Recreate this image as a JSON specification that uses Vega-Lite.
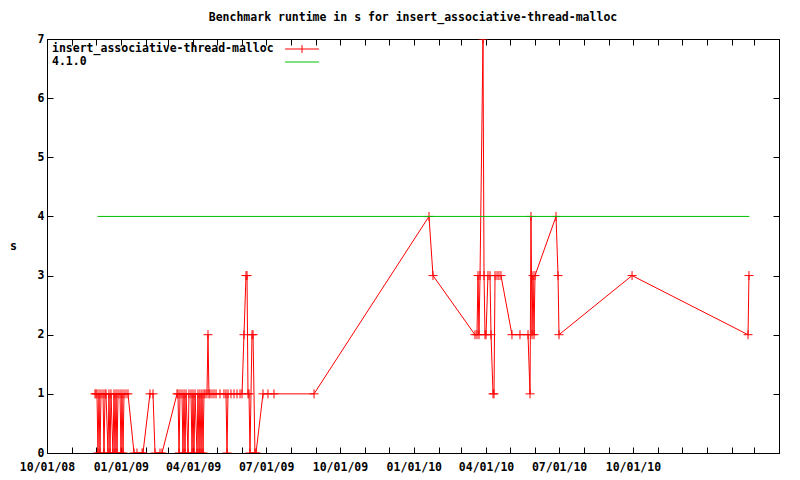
{
  "$schema": "https://vega.github.io/schema/vega-lite/v6.json",
  "width": 732,
  "height": 414,
  "autosize": "none",
  "padding": {"left": 47, "top": 39, "right": 21, "bottom": 27},
  "background": "white",
  "title": {"text": "Benchmark runtime in s for insert_associative-thread-malloc", "anchor": "middle", "offset": 10, "font": "DejaVu Sans Mono", "fontSize": 11.5, "fontWeight": "bold", "color": "black"},
  "config": {
    "view": {"stroke": "black", "strokeWidth": 1},
    "axis": {"labelFont": "DejaVu Sans Mono", "labelFontSize": 11.5, "labelFontWeight": "bold", "labelColor": "black", "titleFont": "DejaVu Sans Mono", "titleFontSize": 11.5, "titleFontWeight": "bold", "titleColor": "black", "grid": false, "domainColor": "black", "tickColor": "black", "tickSize": -6, "labelFlush": false, "labelOverlap": false},
    "legend": {"labelFont": "DejaVu Sans Mono", "labelFontSize": 11.5, "labelFontWeight": "bold", "labelColor": "black"}
  },
  "datasets": {
    "red": [
      {"date": "2008-11-29T19:00:00Z", "value": 1, "series": "insert_associative-thread-malloc"},
      {"date": "2008-12-01T00:00:00Z", "value": 1, "series": "insert_associative-thread-malloc"},
      {"date": "2008-12-02T07:00:00Z", "value": 1, "series": "insert_associative-thread-malloc"},
      {"date": "2008-12-03T12:00:00Z", "value": 0, "series": "insert_associative-thread-malloc"},
      {"date": "2008-12-04T19:00:00Z", "value": 1, "series": "insert_associative-thread-malloc"},
      {"date": "2008-12-06T00:00:00Z", "value": 0, "series": "insert_associative-thread-malloc"},
      {"date": "2008-12-07T07:00:00Z", "value": 1, "series": "insert_associative-thread-malloc"},
      {"date": "2008-12-09T19:00:00Z", "value": 1, "series": "insert_associative-thread-malloc"},
      {"date": "2008-12-11T00:00:00Z", "value": 0, "series": "insert_associative-thread-malloc"},
      {"date": "2008-12-12T07:00:00Z", "value": 1, "series": "insert_associative-thread-malloc"},
      {"date": "2008-12-13T12:00:00Z", "value": 1, "series": "insert_associative-thread-malloc"},
      {"date": "2008-12-16T00:00:00Z", "value": 0, "series": "insert_associative-thread-malloc"},
      {"date": "2008-12-17T05:00:00Z", "value": 1, "series": "insert_associative-thread-malloc"},
      {"date": "2008-12-18T12:00:00Z", "value": 0, "series": "insert_associative-thread-malloc"},
      {"date": "2008-12-19T17:00:00Z", "value": 1, "series": "insert_associative-thread-malloc"},
      {"date": "2008-12-22T05:00:00Z", "value": 0, "series": "insert_associative-thread-malloc"},
      {"date": "2008-12-23T12:00:00Z", "value": 1, "series": "insert_associative-thread-malloc"},
      {"date": "2008-12-24T17:00:00Z", "value": 0, "series": "insert_associative-thread-malloc"},
      {"date": "2008-12-26T00:00:00Z", "value": 1, "series": "insert_associative-thread-malloc"},
      {"date": "2008-12-27T05:00:00Z", "value": 0, "series": "insert_associative-thread-malloc"},
      {"date": "2008-12-28T12:00:00Z", "value": 1, "series": "insert_associative-thread-malloc"},
      {"date": "2008-12-31T00:00:00Z", "value": 1, "series": "insert_associative-thread-malloc"},
      {"date": "2009-01-01T05:00:00Z", "value": 0, "series": "insert_associative-thread-malloc"},
      {"date": "2009-01-02T10:00:00Z", "value": 1, "series": "insert_associative-thread-malloc"},
      {"date": "2009-01-03T17:00:00Z", "value": 0, "series": "insert_associative-thread-malloc"},
      {"date": "2009-01-04T22:00:00Z", "value": 1, "series": "insert_associative-thread-malloc"},
      {"date": "2009-01-07T10:00:00Z", "value": 1, "series": "insert_associative-thread-malloc"},
      {"date": "2009-01-09T22:00:00Z", "value": 1, "series": "insert_associative-thread-malloc"},
      {"date": "2009-01-17T10:00:00Z", "value": 0, "series": "insert_associative-thread-malloc"},
      {"date": "2009-01-21T02:00:00Z", "value": 0, "series": "insert_associative-thread-malloc"},
      {"date": "2009-01-27T10:00:00Z", "value": 0, "series": "insert_associative-thread-malloc"},
      {"date": "2009-01-28T14:00:00Z", "value": 0, "series": "insert_associative-thread-malloc"},
      {"date": "2009-02-06T07:00:00Z", "value": 1, "series": "insert_associative-thread-malloc"},
      {"date": "2009-02-10T02:00:00Z", "value": 1, "series": "insert_associative-thread-malloc"},
      {"date": "2009-02-12T14:00:00Z", "value": 0, "series": "insert_associative-thread-malloc"},
      {"date": "2009-02-18T19:00:00Z", "value": 0, "series": "insert_associative-thread-malloc"},
      {"date": "2009-02-21T07:00:00Z", "value": 0, "series": "insert_associative-thread-malloc"},
      {"date": "2009-03-12T00:00:00Z", "value": 1, "series": "insert_associative-thread-malloc"},
      {"date": "2009-03-13T05:00:00Z", "value": 1, "series": "insert_associative-thread-malloc"},
      {"date": "2009-03-14T12:00:00Z", "value": 0, "series": "insert_associative-thread-malloc"},
      {"date": "2009-03-15T17:00:00Z", "value": 1, "series": "insert_associative-thread-malloc"},
      {"date": "2009-03-18T05:00:00Z", "value": 1, "series": "insert_associative-thread-malloc"},
      {"date": "2009-03-19T10:00:00Z", "value": 0, "series": "insert_associative-thread-malloc"},
      {"date": "2009-03-20T17:00:00Z", "value": 1, "series": "insert_associative-thread-malloc"},
      {"date": "2009-03-21T22:00:00Z", "value": 0, "series": "insert_associative-thread-malloc"},
      {"date": "2009-03-23T05:00:00Z", "value": 1, "series": "insert_associative-thread-malloc"},
      {"date": "2009-03-25T17:00:00Z", "value": 0, "series": "insert_associative-thread-malloc"},
      {"date": "2009-03-26T22:00:00Z", "value": 1, "series": "insert_associative-thread-malloc"},
      {"date": "2009-03-29T10:00:00Z", "value": 1, "series": "insert_associative-thread-malloc"},
      {"date": "2009-03-30T17:00:00Z", "value": 0, "series": "insert_associative-thread-malloc"},
      {"date": "2009-03-31T22:00:00Z", "value": 1, "series": "insert_associative-thread-malloc"},
      {"date": "2009-04-02T02:00:00Z", "value": 0, "series": "insert_associative-thread-malloc"},
      {"date": "2009-04-03T10:00:00Z", "value": 1, "series": "insert_associative-thread-malloc"},
      {"date": "2009-04-05T22:00:00Z", "value": 0, "series": "insert_associative-thread-malloc"},
      {"date": "2009-04-07T02:00:00Z", "value": 1, "series": "insert_associative-thread-malloc"},
      {"date": "2009-04-08T10:00:00Z", "value": 0, "series": "insert_associative-thread-malloc"},
      {"date": "2009-04-09T14:00:00Z", "value": 1, "series": "insert_associative-thread-malloc"},
      {"date": "2009-04-10T22:00:00Z", "value": 0, "series": "insert_associative-thread-malloc"},
      {"date": "2009-04-12T02:00:00Z", "value": 1, "series": "insert_associative-thread-malloc"},
      {"date": "2009-04-13T10:00:00Z", "value": 0, "series": "insert_associative-thread-malloc"},
      {"date": "2009-04-14T14:00:00Z", "value": 1, "series": "insert_associative-thread-malloc"},
      {"date": "2009-04-15T22:00:00Z", "value": 1, "series": "insert_associative-thread-malloc"},
      {"date": "2009-04-18T07:00:00Z", "value": 1, "series": "insert_associative-thread-malloc"},
      {"date": "2009-04-19T14:00:00Z", "value": 2, "series": "insert_associative-thread-malloc"},
      {"date": "2009-04-20T19:00:00Z", "value": 1, "series": "insert_associative-thread-malloc"},
      {"date": "2009-04-22T02:00:00Z", "value": 1, "series": "insert_associative-thread-malloc"},
      {"date": "2009-04-24T14:00:00Z", "value": 1, "series": "insert_associative-thread-malloc"},
      {"date": "2009-04-27T02:00:00Z", "value": 1, "series": "insert_associative-thread-malloc"},
      {"date": "2009-04-29T14:00:00Z", "value": 1, "series": "insert_associative-thread-malloc"},
      {"date": "2009-05-04T12:00:00Z", "value": 1, "series": "insert_associative-thread-malloc"},
      {"date": "2009-05-09T12:00:00Z", "value": 1, "series": "insert_associative-thread-malloc"},
      {"date": "2009-05-12T00:00:00Z", "value": 1, "series": "insert_associative-thread-malloc"},
      {"date": "2009-05-13T07:00:00Z", "value": 0, "series": "insert_associative-thread-malloc"},
      {"date": "2009-05-14T12:00:00Z", "value": 1, "series": "insert_associative-thread-malloc"},
      {"date": "2009-05-18T05:00:00Z", "value": 1, "series": "insert_associative-thread-malloc"},
      {"date": "2009-05-22T00:00:00Z", "value": 1, "series": "insert_associative-thread-malloc"},
      {"date": "2009-05-25T17:00:00Z", "value": 1, "series": "insert_associative-thread-malloc"},
      {"date": "2009-05-29T12:00:00Z", "value": 1, "series": "insert_associative-thread-malloc"},
      {"date": "2009-06-01T00:00:00Z", "value": 1, "series": "insert_associative-thread-malloc"},
      {"date": "2009-06-03T10:00:00Z", "value": 2, "series": "insert_associative-thread-malloc"},
      {"date": "2009-06-05T22:00:00Z", "value": 3, "series": "insert_associative-thread-malloc"},
      {"date": "2009-06-07T05:00:00Z", "value": 3, "series": "insert_associative-thread-malloc"},
      {"date": "2009-06-08T10:00:00Z", "value": 1, "series": "insert_associative-thread-malloc"},
      {"date": "2009-06-09T17:00:00Z", "value": 1, "series": "insert_associative-thread-malloc"},
      {"date": "2009-06-10T22:00:00Z", "value": 0, "series": "insert_associative-thread-malloc"},
      {"date": "2009-06-13T10:00:00Z", "value": 2, "series": "insert_associative-thread-malloc"},
      {"date": "2009-06-14T17:00:00Z", "value": 2, "series": "insert_associative-thread-malloc"},
      {"date": "2009-06-17T02:00:00Z", "value": 0, "series": "insert_associative-thread-malloc"},
      {"date": "2009-06-18T10:00:00Z", "value": 0, "series": "insert_associative-thread-malloc"},
      {"date": "2009-06-27T02:00:00Z", "value": 1, "series": "insert_associative-thread-malloc"},
      {"date": "2009-07-03T07:00:00Z", "value": 1, "series": "insert_associative-thread-malloc"},
      {"date": "2009-07-10T19:00:00Z", "value": 1, "series": "insert_associative-thread-malloc"},
      {"date": "2009-08-29T17:00:00Z", "value": 1, "series": "insert_associative-thread-malloc"},
      {"date": "2010-01-19T22:00:00Z", "value": 4, "series": "insert_associative-thread-malloc"},
      {"date": "2010-01-24T22:00:00Z", "value": 3, "series": "insert_associative-thread-malloc"},
      {"date": "2010-03-18T05:00:00Z", "value": 2, "series": "insert_associative-thread-malloc"},
      {"date": "2010-03-20T17:00:00Z", "value": 2, "series": "insert_associative-thread-malloc"},
      {"date": "2010-03-22T00:00:00Z", "value": 3, "series": "insert_associative-thread-malloc"},
      {"date": "2010-03-23T05:00:00Z", "value": 2, "series": "insert_associative-thread-malloc"},
      {"date": "2010-03-24T12:00:00Z", "value": 3, "series": "insert_associative-thread-malloc"},
      {"date": "2010-03-28T05:00:00Z", "value": 7, "series": "insert_associative-thread-malloc"},
      {"date": "2010-03-29T12:00:00Z", "value": 3, "series": "insert_associative-thread-malloc"},
      {"date": "2010-03-30T17:00:00Z", "value": 2, "series": "insert_associative-thread-malloc"},
      {"date": "2010-04-01T00:00:00Z", "value": 2, "series": "insert_associative-thread-malloc"},
      {"date": "2010-04-03T10:00:00Z", "value": 3, "series": "insert_associative-thread-malloc"},
      {"date": "2010-04-05T22:00:00Z", "value": 3, "series": "insert_associative-thread-malloc"},
      {"date": "2010-04-07T05:00:00Z", "value": 2, "series": "insert_associative-thread-malloc"},
      {"date": "2010-04-09T17:00:00Z", "value": 1, "series": "insert_associative-thread-malloc"},
      {"date": "2010-04-10T22:00:00Z", "value": 1, "series": "insert_associative-thread-malloc"},
      {"date": "2010-04-12T05:00:00Z", "value": 3, "series": "insert_associative-thread-malloc"},
      {"date": "2010-04-14T17:00:00Z", "value": 3, "series": "insert_associative-thread-malloc"},
      {"date": "2010-04-17T02:00:00Z", "value": 3, "series": "insert_associative-thread-malloc"},
      {"date": "2010-04-19T14:00:00Z", "value": 3, "series": "insert_associative-thread-malloc"},
      {"date": "2010-05-03T07:00:00Z", "value": 2, "series": "insert_associative-thread-malloc"},
      {"date": "2010-05-13T07:00:00Z", "value": 2, "series": "insert_associative-thread-malloc"},
      {"date": "2010-05-23T07:00:00Z", "value": 2, "series": "insert_associative-thread-malloc"},
      {"date": "2010-05-25T19:00:00Z", "value": 1, "series": "insert_associative-thread-malloc"},
      {"date": "2010-05-27T00:00:00Z", "value": 4, "series": "insert_associative-thread-malloc"},
      {"date": "2010-05-28T07:00:00Z", "value": 2, "series": "insert_associative-thread-malloc"},
      {"date": "2010-05-29T12:00:00Z", "value": 3, "series": "insert_associative-thread-malloc"},
      {"date": "2010-05-30T19:00:00Z", "value": 2, "series": "insert_associative-thread-malloc"},
      {"date": "2010-06-01T00:00:00Z", "value": 3, "series": "insert_associative-thread-malloc"},
      {"date": "2010-06-27T05:00:00Z", "value": 4, "series": "insert_associative-thread-malloc"},
      {"date": "2010-06-29T17:00:00Z", "value": 3, "series": "insert_associative-thread-malloc"},
      {"date": "2010-06-30T22:00:00Z", "value": 2, "series": "insert_associative-thread-malloc"},
      {"date": "2010-09-29T22:00:00Z", "value": 3, "series": "insert_associative-thread-malloc"},
      {"date": "2011-02-21T10:00:00Z", "value": 2, "series": "insert_associative-thread-malloc"},
      {"date": "2011-02-22T14:00:00Z", "value": 3, "series": "insert_associative-thread-malloc"}
    ],
    "green": [
      {"date": "2008-12-03T00:00:00Z", "value": 4, "series": "4.1.0"},
      {"date": "2011-02-23T00:00:00Z", "value": 4, "series": "4.1.0"}
    ]
  },
  "layer": [
    {
      "data": {"name": "red"},
      "mark": {"type": "line", "strokeWidth": 1, "clip": true, "interpolate": "linear"},
      "encoding": {
        "x": {"field": "date", "type": "temporal",
          "scale": {"type": "utc", "domain": [{"year": 2008, "month": 10, "date": 1, "utc": true}, {"year": 2011, "month": 4, "date": 1, "utc": true}], "nice": false},
          "axis": {"orient": "bottom", "title": null, "labelPadding": 14,
            "values": [
              {"year": 2008, "month": 10, "date": 1, "utc": true}, {"year": 2008, "month": 11, "date": 1, "utc": true}, {"year": 2008, "month": 12, "date": 1, "utc": true},
              {"year": 2009, "month": 1, "date": 1, "utc": true}, {"year": 2009, "month": 2, "date": 1, "utc": true}, {"year": 2009, "month": 3, "date": 1, "utc": true},
              {"year": 2009, "month": 4, "date": 1, "utc": true}, {"year": 2009, "month": 5, "date": 1, "utc": true}, {"year": 2009, "month": 6, "date": 1, "utc": true},
              {"year": 2009, "month": 7, "date": 1, "utc": true}, {"year": 2009, "month": 8, "date": 1, "utc": true}, {"year": 2009, "month": 9, "date": 1, "utc": true},
              {"year": 2009, "month": 10, "date": 1, "utc": true}, {"year": 2009, "month": 11, "date": 1, "utc": true}, {"year": 2009, "month": 12, "date": 1, "utc": true},
              {"year": 2010, "month": 1, "date": 1, "utc": true}, {"year": 2010, "month": 2, "date": 1, "utc": true}, {"year": 2010, "month": 3, "date": 1, "utc": true},
              {"year": 2010, "month": 4, "date": 1, "utc": true}, {"year": 2010, "month": 5, "date": 1, "utc": true}, {"year": 2010, "month": 6, "date": 1, "utc": true},
              {"year": 2010, "month": 7, "date": 1, "utc": true}, {"year": 2010, "month": 8, "date": 1, "utc": true}, {"year": 2010, "month": 9, "date": 1, "utc": true},
              {"year": 2010, "month": 10, "date": 1, "utc": true}, {"year": 2010, "month": 11, "date": 1, "utc": true}, {"year": 2010, "month": 12, "date": 1, "utc": true},
              {"year": 2011, "month": 1, "date": 1, "utc": true}, {"year": 2011, "month": 2, "date": 1, "utc": true}, {"year": 2011, "month": 3, "date": 1, "utc": true},
              {"year": 2011, "month": 4, "date": 1, "utc": true}
            ],
            "labelExpr": "(utcmonth(datum.value) % 3 == 0 && datum.value <= utc(2010, 9, 1)) ? utcFormat(datum.value, '%m/%d/%y') : ''"
          }
        },
        "y": {"field": "value", "type": "quantitative",
          "scale": {"domain": [0, 7], "nice": false, "zero": false},
          "axis": {"orient": "left", "values": [0, 1, 2, 3, 4, 5, 6, 7], "title": "s", "titleAngle": 0, "titleBaseline": "middle", "titleAlign": "center", "titlePadding": 24, "labelPadding": 9}
        },
        "color": {"field": "series", "type": "nominal",
          "scale": {"domain": ["insert_associative-thread-malloc", "4.1.0"], "range": ["#ff0000", "#00c000"]},
          "legend": {"title": null, "orient": "none", "legendX": 248, "legendY": 3, "padding": 0, "rowPadding": 0,
            "symbolSize": 169, "symbolStrokeWidth": 1, "labelOffset": -257, "labelLimit": 0, "labelAlign": "left",
            "encode": {"symbols": {"update": {"shape": {"signal": "datum.value == '4.1.0' ? 'M-2.6,0H2.6' : 'M-2.6,0H2.6M0,-0.6V0.6'"}, "fill": {"value": "transparent"}}}}}
        }
      }
    },
    {
      "data": {"name": "red"},
      "mark": {"type": "point", "shape": "M-1,0H1M0,-1V1", "size": 81, "filled": false, "strokeWidth": 1, "color": "#ff0000", "opacity": 1, "clip": true},
      "encoding": {
        "x": {"field": "date", "type": "temporal", "axis": {"orient": "top", "labels": false, "title": null,
            "values": [
              {"year": 2008, "month": 10, "date": 1, "utc": true}, {"year": 2008, "month": 11, "date": 1, "utc": true}, {"year": 2008, "month": 12, "date": 1, "utc": true},
              {"year": 2009, "month": 1, "date": 1, "utc": true}, {"year": 2009, "month": 2, "date": 1, "utc": true}, {"year": 2009, "month": 3, "date": 1, "utc": true},
              {"year": 2009, "month": 4, "date": 1, "utc": true}, {"year": 2009, "month": 5, "date": 1, "utc": true}, {"year": 2009, "month": 6, "date": 1, "utc": true},
              {"year": 2009, "month": 7, "date": 1, "utc": true}, {"year": 2009, "month": 8, "date": 1, "utc": true}, {"year": 2009, "month": 9, "date": 1, "utc": true},
              {"year": 2009, "month": 10, "date": 1, "utc": true}, {"year": 2009, "month": 11, "date": 1, "utc": true}, {"year": 2009, "month": 12, "date": 1, "utc": true},
              {"year": 2010, "month": 1, "date": 1, "utc": true}, {"year": 2010, "month": 2, "date": 1, "utc": true}, {"year": 2010, "month": 3, "date": 1, "utc": true},
              {"year": 2010, "month": 4, "date": 1, "utc": true}, {"year": 2010, "month": 5, "date": 1, "utc": true}, {"year": 2010, "month": 6, "date": 1, "utc": true},
              {"year": 2010, "month": 7, "date": 1, "utc": true}, {"year": 2010, "month": 8, "date": 1, "utc": true}, {"year": 2010, "month": 9, "date": 1, "utc": true},
              {"year": 2010, "month": 10, "date": 1, "utc": true}, {"year": 2010, "month": 11, "date": 1, "utc": true}, {"year": 2010, "month": 12, "date": 1, "utc": true},
              {"year": 2011, "month": 1, "date": 1, "utc": true}, {"year": 2011, "month": 2, "date": 1, "utc": true}, {"year": 2011, "month": 3, "date": 1, "utc": true},
              {"year": 2011, "month": 4, "date": 1, "utc": true}
            ]}},
        "y": {"field": "value", "type": "quantitative", "axis": {"orient": "right", "labels": false, "title": null, "values": [0, 1, 2, 3, 4, 5, 6, 7]}}
      }
    },
    {
      "data": {"name": "green"},
      "mark": {"type": "line", "strokeWidth": 1, "clip": true},
      "encoding": {
        "x": {"field": "date", "type": "temporal", "axis": null},
        "y": {"field": "value", "type": "quantitative", "axis": null},
        "color": {"field": "series", "type": "nominal"}
      }
    }
  ]
}
